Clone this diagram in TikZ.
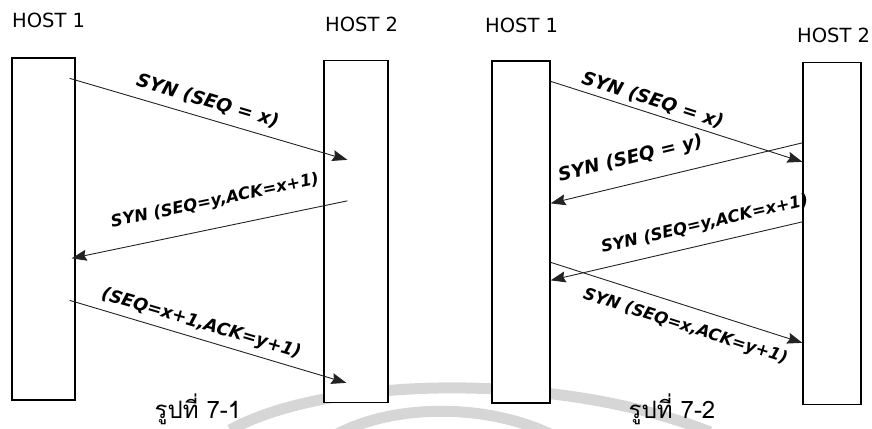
\documentclass[tikz,border=0pt]{standalone}
\usepackage{fontspec}
\setmainfont{DejaVu Sans}
\newfontfamily\thaifont[Script=Thai]{Loma}
\usepackage{tikz}
\usetikzlibrary{arrows.meta, positioning, calc}
\definecolor{inkgrey}{RGB}{35,35,35}
\definecolor{markgrey}{RGB}{214,214,214}

\begin{document}
\begin{tikzpicture}[
  x=1pt, y=-1pt,
  host/.style={rectangle, draw=black, fill=white, line width=1.3pt,
               minimum height=342pt, inner sep=0pt},
  hostlabel/.style={anchor=base west, inner sep=0pt,
                    font=\fontsize{19.5}{22}\selectfont},
  msg/.style={-{Stealth[length=15pt, width=11pt, inset=2pt]}, draw=inkgrey, line width=0.9pt},
  msglabel/.style={sloped, inner sep=0pt,
                   font=\fontsize{16.5}{18}\selectfont\bfseries\itshape},
  biglabel/.style={msglabel, font=\fontsize{18.5}{20}\selectfont\bfseries\itshape},
  caption/.style={anchor=base, inner sep=0pt,
                  font=\thaifont\fontsize{24}{26}\selectfont},
  watermark/.style={draw=markgrey, line width=11pt}
]
\useasboundingbox (0,0) rectangle (872,428);

% faint logo arcs behind the figures
\draw[watermark] (230,430) .. controls (330,375) and (560,372) .. (710,432);
\draw[watermark] (320,445) .. controls (380,400) and (500,400) .. (570,445);

% figure 7-1
\node[host, minimum width=63pt] (fig1h1) at (43.5,229) {};
\node[host, minimum width=64pt] (fig1h2) at (356,231.5) {};
\node[hostlabel] (lbl1h1) at (12,28) {HOST 1};
\node[hostlabel] (lbl1h2) at (325,32) {HOST 2};

\draw[msg] ([shift={(-6,21)}]fig1h1.north east) -- ([shift={(24,100)}]fig1h2.north west)
  node[biglabel, pos=0.48, above=8pt] (m11) {SYN (SEQ = x)};
\draw[msg] ([shift={(24,141)}]fig1h2.north west) -- ([shift={(-4,201)}]fig1h1.north east)
  node[msglabel, pos=0.46, above=18pt] (m12) {SYN (SEQ=y,ACK=x+1)};
\draw[msg] ([shift={(-6,243)}]fig1h1.north east) -- ([shift={(23,323)}]fig1h2.north west)
  node[msglabel, font=\fontsize{17.5}{19}\selectfont\bfseries\itshape,
       pos=0.46, above=6pt] (m13) {(SEQ=x+1,ACK=y+1)};

\node[caption] (cap1) at (198,418) {รูปที่ 7-1};

% figure 7-2
\node[host, minimum width=58pt] (fig2h1) at (521,232) {};
\node[host, minimum width=58pt] (fig2h2) at (832,233.5) {};
\node[hostlabel] (lbl2h1) at (485,33) {HOST 1};
\node[hostlabel] (lbl2h2) at (797,42) {HOST 2};

\draw[msg] ([shift={(0,21)}]fig2h1.north east) -- ([shift={(0,100)}]fig2h2.north west)
  node[biglabel, pos=0.39, above=4pt] (m21) {SYN (SEQ = x)};
\draw[msg] ([shift={(0,81)}]fig2h2.north west) -- ([shift={(0,143)}]fig2h1.north east)
  node[biglabel, pos=0.66, above=15pt] (m22) {SYN (SEQ = y)};
\draw[msg] ([shift={(0,160)}]fig2h2.north west) -- ([shift={(0,220)}]fig2h1.north east)
  node[msglabel, pos=0.37, above=11pt] (m23) {SYN (SEQ=y,ACK=x+1)};
\draw[msg] ([shift={(0,202)}]fig2h1.north east) -- ([shift={(0,281)}]fig2h2.north west)
  node[msglabel, pos=0.56, below=12pt] (m24) {SYN (SEQ=x,ACK=y+1)};

\node[caption] (cap2) at (672,418) {รูปที่ 7-2};
\end{tikzpicture}
\end{document}
